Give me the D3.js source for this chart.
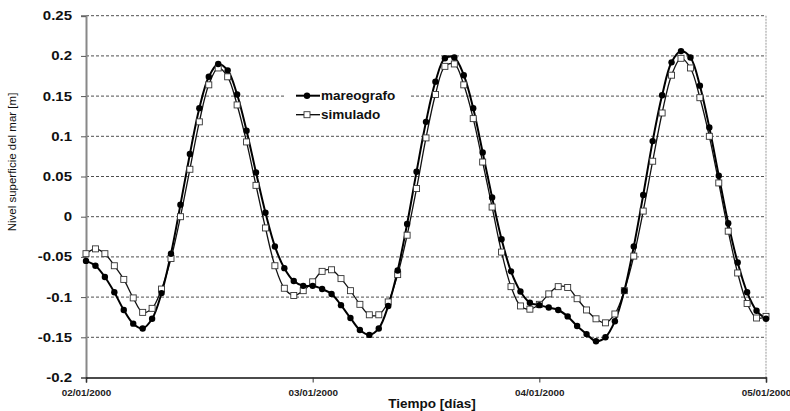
<!DOCTYPE html>
<html>
<head>
<meta charset="utf-8">
<script src="https://cdn.jsdelivr.net/npm/d3@7"></script>
<style>
  body { margin: 0; background: #fff; }
  svg { display: block; font-family: "Liberation Sans", Arial, sans-serif; }
</style>
</head>
<body>
<div class="chart"></div>
<script>
var chartOptions = {
  width: 790,
  height: 411,
  left: 86,
  right: 766,
  top: 15.7,
  bottom: 377.5
};

// hourly values, 02/01/2000 00h -> 05/01/2000 00h
var mareografo = [
  -0.055, -0.061, -0.075, -0.094, -0.116, -0.133, -0.139, -0.127, -0.095, -0.046, 0.015, 0.078,
  0.135, 0.174, 0.190, 0.182, 0.152, 0.107, 0.055, 0.005, -0.037, -0.064, -0.080, -0.086,
  -0.086, -0.090, -0.096, -0.110, -0.126, -0.141, -0.147, -0.139, -0.111, -0.067, -0.009, 0.056,
  0.118, 0.168, 0.197, 0.198, 0.176, 0.135, 0.080, 0.024, -0.028, -0.068, -0.093, -0.107,
  -0.110, -0.113, -0.116, -0.124, -0.136, -0.146, -0.155, -0.150, -0.130, -0.092, -0.037, 0.027,
  0.094, 0.151, 0.192, 0.206, 0.198, 0.163, 0.111, 0.051, -0.008, -0.057, -0.094, -0.117, -0.127
];

var simulado = [
  -0.046, -0.040, -0.046, -0.061, -0.078, -0.101, -0.119, -0.114, -0.090, -0.052, 0.000, 0.059,
  0.118, 0.164, 0.185, 0.174, 0.139, 0.093, 0.039, -0.014, -0.061, -0.089, -0.098, -0.092,
  -0.081, -0.068, -0.066, -0.077, -0.092, -0.109, -0.122, -0.122, -0.106, -0.072, -0.023, 0.035,
  0.098, 0.152, 0.187, 0.190, 0.164, 0.122, 0.068, 0.012, -0.044, -0.087, -0.111, -0.115,
  -0.109, -0.096, -0.087, -0.088, -0.102, -0.116, -0.127, -0.132, -0.121, -0.092, -0.049, 0.007,
  0.069, 0.129, 0.176, 0.197, 0.185, 0.148, 0.100, 0.042, -0.018, -0.070, -0.108, -0.126, -0.124
];

var dayTicks = ["02/01/2000", "03/01/2000", "04/01/2000", "05/01/2000"];
var yTicks = [-0.2, -0.15, -0.1, -0.05, 0, 0.05, 0.1, 0.15, 0.2, 0.25];
var seriesNames = ["mareografo", "simulado"];

var parseDay = d3.timeParse("%d/%m/%Y");
var start = parseDay(dayTicks[0]);

var timeOf = function(i){
  return d3.timeHour.offset(start, i);
};

var x = d3.scaleTime()
  .domain([start, parseDay(dayTicks[dayTicks.length - 1])])
  .range([chartOptions.left, chartOptions.right]);

var y = d3.scaleLinear()
  .domain([-0.2, 0.25])
  .range([chartOptions.bottom, chartOptions.top]);

var svg = d3.select('.chart').append('svg')
  .attr('width', chartOptions.width)
  .attr('height', chartOptions.height);

// grid lines
svg.append('g').selectAll('line.grid')
  .data(yTicks.slice(1))
  .enter()
  .append('line')
  .attr('class', 'grid')
  .attr('x1', chartOptions.left)
  .attr('x2', chartOptions.right)
  .attr('y1', function(d) { return y(d); })
  .attr('y2', function(d) { return y(d); })
  .attr('stroke', '#222')
  .attr('stroke-width', 0.8)
  .attr('stroke-dasharray', '3,2');

// right border
svg.append('line')
  .attr('x1', chartOptions.right).attr('x2', chartOptions.right)
  .attr('y1', chartOptions.top).attr('y2', chartOptions.bottom)
  .attr('stroke', '#aaa')
  .attr('stroke-width', 1.2)
  .attr('stroke-dasharray', '2,1');

// y axis
var yAxis = d3.axisLeft(y)
  .tickValues(yTicks)
  .tickSize(5)
  .tickFormat(function(d) { return String(+d.toFixed(2)); });

var gy = svg.append('g')
  .attr('transform', 'translate(' + chartOptions.left + ',0)')
  .call(yAxis);
gy.select('.domain').attr('stroke', '#888').attr('stroke-width', 2);
gy.selectAll('.tick line').attr('stroke', '#555');
gy.selectAll('.tick text')
  .attr('x', 0)
  .attr('transform', 'translate(-14,0) scale(1.2,1)')
  .attr('font-size', 12.5)
  .attr('font-weight', 'bold')
  .attr('fill', '#111')
  .attr('font-family', '"Liberation Sans", Arial, sans-serif');

// x axis
var xAxis = d3.axisBottom(x)
  .tickValues(dayTicks.map(parseDay))
  .tickSize(5)
  .tickFormat(d3.timeFormat("%d/%m/%Y"));

var gx = svg.append('g')
  .attr('transform', 'translate(0,' + chartOptions.bottom + ')')
  .call(xAxis);
gx.select('.domain').attr('stroke', '#111').attr('stroke-width', 1.5);
gx.selectAll('.tick line').attr('stroke', '#333');
gx.selectAll('.tick text')
  .attr('y', 19)
  .attr('dy', null)
  .attr('transform', 'scale(1.1,1)')
  .attr('font-size', 9)
  .attr('font-weight', 'bold')
  .attr('fill', '#222')
  .attr('font-family', '"Liberation Sans", Arial, sans-serif');

// axis titles
svg.append('text')
  .attr('transform', 'translate(16,162) rotate(-90)')
  .attr('text-anchor', 'middle')
  .attr('font-size', 11.5)
  .attr('fill', '#111')
  .text('Nivel superficie del mar [m]');

svg.append('text')
  .attr('x', 432)
  .attr('y', 408)
  .attr('text-anchor', 'middle')
  .attr('font-size', 13.5)
  .attr('font-weight', 'bold')
  .attr('fill', '#111')
  .text('Tiempo [días]');

// lines
var line = d3.line()
  .x(function(d, i) { return x(timeOf(i)); })
  .y(function(d) { return y(d); })
  .curve(d3.curveCatmullRom.alpha(0.5));

svg.append('path')
  .datum(simulado)
  .attr('fill', 'none')
  .attr('stroke', '#111')
  .attr('stroke-width', 1.3)
  .attr('d', line);

svg.append('path')
  .datum(mareografo)
  .attr('fill', 'none')
  .attr('stroke', '#000')
  .attr('stroke-width', 2)
  .attr('d', line);

svg.append('g').selectAll('rect.sim')
  .data(simulado)
  .enter()
  .append('rect')
  .attr('class', 'sim')
  .attr('x', function(d, i) { return x(timeOf(i)) - 3; })
  .attr('y', function(d) { return y(d) - 3; })
  .attr('width', 6)
  .attr('height', 6)
  .attr('fill', '#fff')
  .attr('stroke', '#333')
  .attr('stroke-width', 0.9);

svg.append('g').selectAll('circle.mar')
  .data(mareografo)
  .enter()
  .append('circle')
  .attr('class', 'mar')
  .attr('cx', function(d, i) { return x(timeOf(i)); })
  .attr('cy', function(d) { return y(d); })
  .attr('r', 3.2)
  .attr('fill', '#000');

// legend
var legend = svg.append('g').attr('transform', 'translate(285,84)');
legend.append('rect')
  .attr('width', 125)
  .attr('height', 42)
  .attr('fill', '#fff');

var items = legend.selectAll('g.item')
  .data(seriesNames)
  .enter()
  .append('g')
  .attr('class', 'item')
  .attr('transform', function(d, i) { return 'translate(0,' + (11.7 + i * 19) + ')'; });

items.append('line')
  .attr('x1', 11).attr('x2', 35)
  .attr('stroke', '#000')
  .attr('stroke-width', function(d, i) { return i === 0 ? 2 : 1.3; });

items.filter(function(d, i) { return i === 0; })
  .append('circle')
  .attr('cx', 22).attr('r', 3.2).attr('fill', '#000');

items.filter(function(d, i) { return i === 1; })
  .append('rect')
  .attr('x', 19).attr('y', -3).attr('width', 6).attr('height', 6)
  .attr('fill', '#fff').attr('stroke', '#333').attr('stroke-width', 0.9);

items.append('text')
  .attr('x', 36)
  .attr('y', 4.5)
  .attr('font-size', 13.5)
  .attr('font-weight', 'bold')
  .attr('fill', '#111')
  .text(function(d) { return d; });
</script>
</body>
</html>
